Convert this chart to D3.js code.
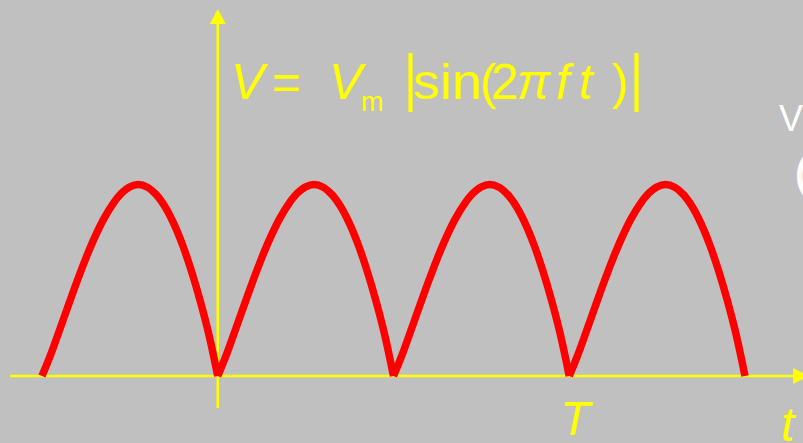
<!DOCTYPE html>
<html>
<head>
<meta charset="utf-8">
<script src="https://cdn.jsdelivr.net/npm/d3@7"></script>
<style>
  html, body { margin: 0; padding: 0; background: #c0c0c0; }
  svg { display: block; }
  text { font-family: "Liberation Sans", Arial, sans-serif; }
</style>
</head>
<body>
<svg id="chart" width="803" height="443"></svg>
<script>
// Full-wave rectified voltage: time in units of the period T, voltage in units of Vm
const timeT = [
  -0.5, -0.475, -0.45, -0.425, -0.4, -0.375, -0.35, -0.325, -0.3, -0.275, -0.25, -0.226,
  -0.2, -0.175, -0.15, -0.125, -0.1, -0.075, -0.05, -0.025,
  0, 0.025, 0.05, 0.075, 0.1, 0.125, 0.15, 0.175, 0.2, 0.225, 0.25, 0.274,
  0.3, 0.325, 0.35, 0.375, 0.4, 0.425, 0.45, 0.475,
  0.5, 0.525, 0.55, 0.575, 0.6, 0.625, 0.65, 0.675, 0.7, 0.725, 0.75, 0.774,
  0.8, 0.825, 0.85, 0.875, 0.9, 0.925, 0.95, 0.975,
  1.0, 1.025, 1.05, 1.075, 1.1, 1.125, 1.15, 1.175, 1.2, 1.225, 1.25, 1.274,
  1.3, 1.325, 1.35, 1.375, 1.4, 1.425, 1.45, 1.475,
  1.5
];
const voltage = [
  0, 0.113, 0.240, 0.369, 0.496, 0.616, 0.724, 0.818, 0.894, 0.952, 0.988, 1.0,
  0.986, 0.947, 0.884, 0.796, 0.684, 0.549, 0.393, 0.215,
  0, 0.113, 0.240, 0.369, 0.496, 0.616, 0.724, 0.818, 0.894, 0.952, 0.988, 1.0,
  0.986, 0.947, 0.884, 0.796, 0.684, 0.549, 0.393, 0.215,
  0, 0.113, 0.240, 0.369, 0.496, 0.616, 0.724, 0.818, 0.894, 0.952, 0.988, 1.0,
  0.986, 0.947, 0.884, 0.796, 0.684, 0.549, 0.393, 0.215,
  0, 0.113, 0.240, 0.369, 0.496, 0.616, 0.724, 0.818, 0.894, 0.952, 0.988, 1.0,
  0.986, 0.947, 0.884, 0.796, 0.684, 0.549, 0.393, 0.215,
  0
];
const tickValues = [1];
const tickLabels = ["T"];
const timeAxisLabel = "t";

const svg = d3.select("#chart");
const YELLOW = "#ffff00", RED = "#ff0000";

const x = d3.scaleLinear().domain([-0.5, 1.5]).range([42, 745]);
const y = d3.scaleLinear().domain([0, 1]).range([376, 184.5]);

svg.append("rect").attr("width", 803).attr("height", 443).attr("fill", "#c0c0c0");

// axes with arrow heads
const x0 = x(0), y0 = y(0);
svg.append("line")
  .attr("x1", x0).attr("x2", x0).attr("y1", 408).attr("y2", 22)
  .attr("stroke", YELLOW).attr("stroke-width", 2.5);
svg.append("path")
  .attr("d", `M${x0},9 L${x0 - 8},24 L${x0 + 8},24 Z`)
  .attr("fill", YELLOW);

svg.append("line")
  .attr("x1", 10).attr("x2", 795).attr("y1", y0).attr("y2", y0)
  .attr("stroke", YELLOW).attr("stroke-width", 2.5);
svg.append("path")
  .attr("d", `M809,${y0} L793,${y0 - 8} L793,${y0 + 8} Z`)
  .attr("fill", YELLOW);

// one path per half period, split at the zeros so the cusps stay sharp
const pts = timeT.map((t, i) => ({ t, v: voltage[i] }));
const arches = [];
let cur = [];
pts.forEach(p => {
  cur.push(p);
  if (p.v === 0 && cur.length > 1) { arches.push(cur); cur = [p]; }
});

const line = d3.line()
  .x(d => x(d.t)).y(d => y(d.v))
  .curve(d3.curveCatmullRom.alpha(0.5));

svg.append("g").selectAll("path")
  .data(arches)
  .join("path")
  .attr("d", line)
  .attr("fill", "none")
  .attr("stroke", RED)
  .attr("stroke-width", 7.5)
  .attr("stroke-linecap", "butt")
  .attr("stroke-linejoin", "round");

// tick label and axis label
svg.append("g").selectAll("text")
  .data(tickValues)
  .join("text")
  .attr("x", d => x(d) - 9)
  .attr("y", 435)
  .attr("font-size", 49)
  .attr("font-style", "italic")
  .attr("fill", YELLOW)
  .text((d, i) => tickLabels[i]);

svg.append("text")
  .attr("x", 781).attr("y", 441)
  .attr("font-size", 48).attr("font-style", "italic")
  .attr("fill", YELLOW).text(timeAxisLabel);

// formula V = Vm |sin(2π f t)|
const f = svg.append("g").attr("fill", YELLOW).attr("font-size", 50);
const put = (txt, px, py, opts = {}) => {
  const el = f.append("text").attr("x", px).attr("y", py).text(txt);
  if (opts.italic) el.attr("font-style", "italic");
  if (opts.size) el.attr("font-size", opts.size);
  return el;
};
put("V", 231, 99, { italic: true });
put("=", 272, 99);
put("V", 329, 99, { italic: true });
put("m", 361, 111, { size: 27 });
put("|", 0, 0).attr("transform", "translate(404,99) scale(1,1.25)");
put("sin", 413, 99).attr("textLength", 69).attr("lengthAdjust", "spacingAndGlyphs");
put("(", 480, 99);
put("2", 491, 99);
put("\u03c0", 517, 99, { italic: true });
put("f", 556, 99, { italic: true });
put("t", 579, 99, { italic: true });
put(")", 612, 99);
put("|", 0, 0).attr("transform", "translate(630,99) scale(1,1.25)");

// partially visible label at the right edge
svg.append("text").attr("x", 779).attr("y", 131)
  .attr("font-size", 36).attr("fill", "#ffffff").text("V");
svg.append("text").attr("x", 795).attr("y", 187)
  .attr("font-size", 40).attr("font-weight", "bold").attr("fill", "#ffffff").text("(");
</script>
</body>
</html>
